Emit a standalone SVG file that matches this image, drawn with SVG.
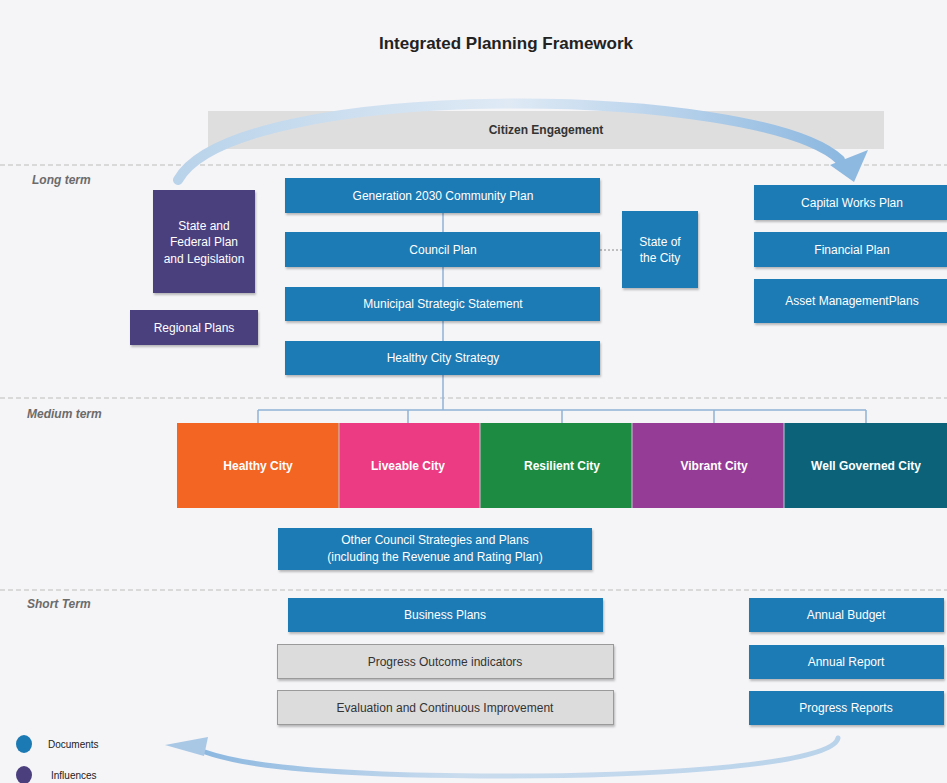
<svg xmlns="http://www.w3.org/2000/svg" width="947" height="783" viewBox="0 0 947 783">
<defs>
<style>
.t{font-family:"Liberation Sans",Arial,sans-serif;font-size:12px;fill:#fff;text-anchor:middle}
.d{font-family:"Liberation Sans",Arial,sans-serif;font-size:12px;fill:#333;text-anchor:middle}
.doc{fill:#1b7ab4}
.inf{fill:#4b3f7e}
.grey{fill:#dcdcdc;stroke:#9a9a9a;stroke-width:1}
.lbl{font-family:"Liberation Sans",Arial,sans-serif;font-size:12px;font-style:italic;font-weight:bold;fill:#6b6b6b}
.sep{stroke:#cfcfcf;stroke-width:1.5;stroke-dasharray:5 3}
.con{stroke:#8fb3d6;stroke-width:1.5;fill:none}
</style>
<linearGradient id="ga" x1="0" y1="0" x2="1" y2="0">
<stop offset="0" stop-color="#b9d3ea"/><stop offset="0.5" stop-color="#dfeaf5"/><stop offset="1" stop-color="#8db8e0"/>
</linearGradient>
<linearGradient id="gb" x1="1" y1="0" x2="0" y2="0">
<stop offset="0" stop-color="#b9d3ea"/><stop offset="0.6" stop-color="#c9dcee"/><stop offset="1" stop-color="#8db8e0"/>
</linearGradient>
<filter id="sh" x="-5%" y="-10%" width="110%" height="130%"><feDropShadow dx="1" dy="2" stdDeviation="1.2" flood-color="#000" flood-opacity="0.25"/></filter>
</defs>
<rect width="947" height="783" fill="#f5f4f7"/>
<text x="506" y="49" font-family="'Liberation Sans',Arial,sans-serif" font-size="17" font-weight="bold" fill="#222" text-anchor="middle">Integrated Planning Framework</text>

<g id="citizen-engagement">
<rect x="208" y="111" width="676" height="38" fill="#dedede"/>
<text x="546" y="134" class="d" font-weight="bold" fill="#222">Citizen Engagement</text>
</g>

<line class="sep" x1="0" y1="165" x2="947" y2="165"/>
<line class="sep" x1="0" y1="398" x2="947" y2="398"/>
<line class="sep" x1="0" y1="590" x2="947" y2="590"/>
<text x="32" y="184" class="lbl">Long term</text>
<text x="27" y="418" class="lbl">Medium term</text>
<text x="27" y="608" class="lbl">Short Term</text>

<g id="connectors">
<path d="M178,180 C 235,78 760,85 840,160" fill="none" stroke="url(#ga)" stroke-width="10" stroke-linecap="round"/>
<polygon points="854,182 830,165 868,150" fill="#8db8e0"/>
<path d="M838,738 C 832,768 620,777 480,776 C 340,775 250,768 205,752" fill="none" stroke="url(#gb)" stroke-width="5" stroke-linecap="round"/>
<polygon points="165,745 208,737 204,756" fill="#a8c8e6"/>
<line class="con" x1="443" y1="213" x2="443" y2="410"/>
<line class="con" x1="258" y1="410" x2="866" y2="410"/>
<line class="con" x1="258" y1="410" x2="258" y2="423"/>
<line class="con" x1="408" y1="410" x2="408" y2="423"/>
<line class="con" x1="562" y1="410" x2="562" y2="423"/>
<line class="con" x1="714" y1="410" x2="714" y2="423"/>
<line class="con" x1="866" y1="410" x2="866" y2="423"/>
<line x1="600" y1="250" x2="622" y2="250" stroke="#888" stroke-width="1" stroke-dasharray="2 2"/>
</g>

<g id="state-federal"><rect class="inf" x="153" y="190" width="102" height="103" filter="url(#sh)"/>
<text class="t" x="204" y="230">State and</text><text class="t" x="204" y="246">Federal Plan</text><text class="t" x="204" y="263">and Legislation</text></g>
<g id="regional-plans"><rect class="inf" x="130" y="310" width="128" height="35" filter="url(#sh)"/><text class="t" x="194" y="332">Regional Plans</text></g>

<g id="generation-2030"><rect class="doc" x="285" y="178" width="315" height="35" filter="url(#sh)"/><text class="t" x="443" y="200">Generation 2030 Community Plan</text></g>
<g id="council-plan"><rect class="doc" x="285" y="232" width="315" height="35" filter="url(#sh)"/><text class="t" x="443" y="254">Council Plan</text></g>
<g id="mss"><rect class="doc" x="285" y="287" width="315" height="34" filter="url(#sh)"/><text class="t" x="443" y="308">Municipal Strategic Statement</text></g>
<g id="healthy-city-strategy"><rect class="doc" x="285" y="341" width="315" height="34" filter="url(#sh)"/><text class="t" x="443" y="362">Healthy City Strategy</text></g>

<g id="state-of-city"><rect class="doc" x="622" y="211" width="76" height="77" filter="url(#sh)"/><text class="t" x="660" y="246">State of</text><text class="t" x="660" y="262">the City</text></g>

<g id="capital-works"><rect class="doc" x="754" y="185" width="193" height="35" filter="url(#sh)"/><text class="t" x="852" y="207">Capital Works Plan</text></g>
<g id="financial-plan"><rect class="doc" x="754" y="232" width="193" height="35" filter="url(#sh)"/><text class="t" x="852" y="254">Financial Plan</text></g>
<g id="asset-management"><rect class="doc" x="754" y="279" width="193" height="44" filter="url(#sh)"/><text class="t" x="852" y="305">Asset ManagementPlans</text></g>

<g id="healthy-city"><rect x="177" y="423" width="162" height="85" fill="#f26522"/><text class="t" x="258" y="470" font-weight="bold">Healthy City</text></g>
<g id="liveable-city"><rect x="339" y="423" width="141" height="85" fill="#ec3b83"/><text class="t" x="408" y="470" font-weight="bold">Liveable City</text></g>
<g id="resilient-city"><rect x="480" y="423" width="152" height="85" fill="#1e8b43"/><text class="t" x="562" y="470" font-weight="bold">Resilient City</text></g>
<g id="vibrant-city"><rect x="632" y="423" width="152" height="85" fill="#953c97"/><text class="t" x="714" y="470" font-weight="bold">Vibrant City</text></g>
<g id="well-governed-city"><rect x="784" y="423" width="163" height="85" fill="#0b6279"/><text class="t" x="866" y="470" font-weight="bold">Well Governed City</text></g>
<g stroke="#c8c8d0" stroke-width="1"><line x1="339" y1="423" x2="339" y2="508"/><line x1="480" y1="423" x2="480" y2="508"/><line x1="632" y1="423" x2="632" y2="508"/><line x1="784" y1="423" x2="784" y2="508"/></g>

<g id="other-council"><rect class="doc" x="278" y="528" width="314" height="42" filter="url(#sh)"/><text class="t" x="435" y="544">Other Council Strategies and Plans</text><text class="t" x="435" y="561">(including the Revenue and Rating Plan)</text></g>

<g id="business-plans"><rect class="doc" x="288" y="598" width="315" height="34" filter="url(#sh)"/><text class="t" x="445" y="619">Business Plans</text></g>
<g id="progress-outcome"><rect class="grey" x="277.5" y="644.5" width="336" height="34" filter="url(#sh)"/><text class="d" x="445" y="666">Progress Outcome indicators</text></g>
<g id="evaluation"><rect class="grey" x="277.5" y="690.5" width="336" height="34" filter="url(#sh)"/><text class="d" x="445" y="712">Evaluation and Continuous Improvement</text></g>

<g id="annual-budget"><rect class="doc" x="749" y="598" width="195" height="34" filter="url(#sh)"/><text class="t" x="846" y="619">Annual Budget</text></g>
<g id="annual-report"><rect class="doc" x="749" y="645" width="195" height="34" filter="url(#sh)"/><text class="t" x="846" y="666">Annual Report</text></g>
<g id="progress-reports"><rect class="doc" x="749" y="691" width="195" height="34" filter="url(#sh)"/><text class="t" x="846" y="712">Progress Reports</text></g>

<g id="legend">
<ellipse cx="24" cy="744" rx="8" ry="9" class="doc"/>
<text x="48" y="748" font-family="'Liberation Sans',Arial,sans-serif" font-size="10" fill="#222">Documents</text>
<ellipse cx="24" cy="775" rx="8" ry="9" class="inf"/>
<text x="51" y="779" font-family="'Liberation Sans',Arial,sans-serif" font-size="10" fill="#222">Influences</text>
</g>
</svg>
